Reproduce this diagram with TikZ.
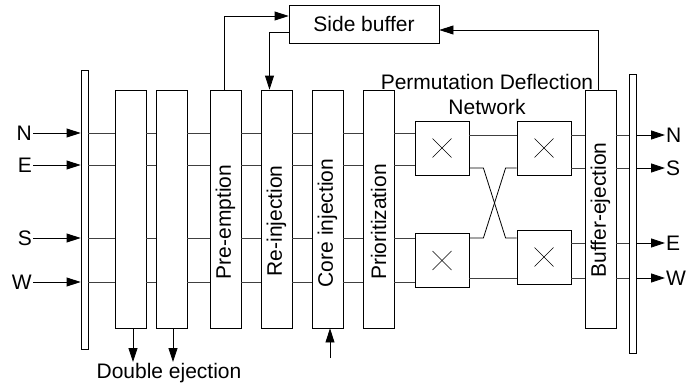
\documentclass[tikz,border=0pt]{standalone}
\usepackage{fontspec}
\setmainfont{Liberation Sans}
\usetikzlibrary{arrows.meta, calc, positioning}

\tikzset{
  every node/.style={font=\fontsize{21}{25}\selectfont},
  stage/.style={draw, line width=0.8pt, minimum width=31pt, minimum height=238pt, inner sep=0pt},
  bar/.style={draw, line width=0.8pt, minimum width=7pt, minimum height=279pt, inner sep=0pt},
  swbox/.style={draw, line width=0.8pt, minimum width=54pt, minimum height=54pt, inner sep=0pt,
    path picture={
      \draw[line width=0.6pt] ([shift={(-9.5pt,-9.5pt)}]path picture bounding box.center) -- ++(19pt,19pt);
      \draw[line width=0.6pt] ([shift={(-9.5pt,9.5pt)}]path picture bounding box.center) -- ++(19pt,-19pt);
    }},
  wire/.style={line width=0.8pt, black!75},
  arr/.style={line width=0.8pt, -{Triangle[length=14pt,width=9pt]}},
  vlabel/.style={rotate=90, inner sep=0pt},
}

\begin{document}
\begin{tikzpicture}[x=1pt, y=-1pt]
\useasboundingbox (0,0) rectangle (686,388);

% Lanes
\coordinate (lN) at (0,133);
\coordinate (lE) at (0,165);
\coordinate (lS) at (0,238);
\coordinate (lW) at (0,282);
\coordinate (rN) at (0,135);
\coordinate (rS) at (0,168);
\coordinate (rE) at (0,243);
\coordinate (rW) at (0,278);

% Input and output bars
\node[bar] (inbar) at (84.5,209.5) {};
\node[bar] (outbar) at (632.5,213.5) {};

% Pipeline stages
\node[stage] (dej1)  at (130.5,209) {};
\node[stage] (dej2)  at (171.5,209) {};
\node[stage] (pre)   at (225.5,209) {};
\node[stage] (reinj) at (276.5,209) {};
\node[stage] (core)  at (327.5,209) {};
\node[stage] (prio)  at (378.5,209) {};
\node[stage] (bej)   at (600.5,209) {};

\node[vlabel] at (225.5,222) {Pre-emption};
\node[vlabel] at (276.5,221) {Re-injection};
\node[vlabel] at (327.5,223) {Core injection};
\node[vlabel] at (378.5,222) {Prioritization};
\node[vlabel] at (600.5,210) {Buffer-ejection};

% Permutation deflection network
\node[swbox] (swA1) at (442,148) {};
\node[swbox] (swB1) at (544,148) {};
\node[swbox] (swA2) at (442,260.5) {};
\node[swbox] (swB2) at (544,257) {};
\node[align=center, inner sep=0pt] (pdn) at (487,94) {Permutation Deflection\\Network};

% Side buffer
\node[draw, line width=0.8pt, minimum width=150pt, minimum height=38pt, inner sep=0pt] (sbuf) at (364,24) {Side buffer};

% Wires between stages
\foreach \a/\b in {inbar/dej1, dej1/dej2, dej2/pre, pre/reinj, reinj/core, core/prio}
  \foreach \l in {lN, lE, lS, lW}
    \draw[wire] (\a.east |- \l) -- (\b.west |- \l);

\draw[wire] (prio.east |- lN) -- (swA1.west |- lN);
\draw[wire] (prio.east |- lE) -- (swA1.west |- lE);
\draw[wire] (prio.east |- lS) -- (swA2.west |- lS);
\draw[wire] (prio.east |- lW) -- (swA2.west |- lW);

\draw[wire] (swA1.east |- rN) -- (swB1.west |- rN);
\draw[wire] (swA2.east |- rW) -- (swB2.west |- rW);
\draw[line width=0.8pt] (swA1.east |- rS) -- ++(14,0) -- ($(swB2.west |- lS)+(-11,0)$) -- (swB2.west |- lS);
\draw[line width=0.8pt] (swA2.east |- lS) -- ++(14,0) -- ($(swB1.west |- rS)+(-11,0)$) -- (swB1.west |- rS);

\foreach \l in {rN, rS} \draw[wire] (swB1.east |- \l) -- (bej.west |- \l);
\foreach \l in {rE, rW} \draw[wire] (swB2.east |- \l) -- (bej.west |- \l);
\foreach \l in {rN, rS, rE, rW} \draw[wire] (bej.east |- \l) -- (outbar.west |- \l);

% Inputs
\foreach \d/\l in {N/lN, E/lE, S/lS, W/lW} {
  \node[anchor=east, inner sep=1pt] (in\d) at ($(33,0)+(\l)$) {\d};
  \draw[arr] (in\d.east) -- (inbar.west |- \l);
}

% Outputs
\foreach \d/\l in {N/rN, S/rS, E/rE, W/rW} {
  \node[anchor=west, inner sep=1pt] (out\d) at ($(665,0)+(\l)$) {\d};
  \draw[arr] (outbar.east |- \l) -- (out\d.west);
}

% Side buffer loop
\draw[arr] ($(pre.north)+(-1.5,0)$) |- ($(sbuf.west)+(0,-8)$);
\draw[arr] ($(sbuf.west)+(0,8)$) -| ($(reinj.north)+(-7,0)$);
\draw[arr] ($(bej.north)+(-2.5,0)$) |- ($(sbuf.east)+(0,6)$);

% Ejection and injection ports
\node[inner sep=1pt] (dbl) at (169,373) {Double ejection};
\coordinate (ej1) at ($(dej1.south)+(2.5,0)$);
\coordinate (ej2) at ($(dej2.south)+(1.5,0)$);
\draw[arr] (ej1) -- (ej1 |- dbl.north);
\draw[arr] (ej2) -- (ej2 |- dbl.north);
\coordinate (cin) at (330,358);
\draw[arr] (cin) -- (cin |- core.south);

\end{tikzpicture}
\end{document}
